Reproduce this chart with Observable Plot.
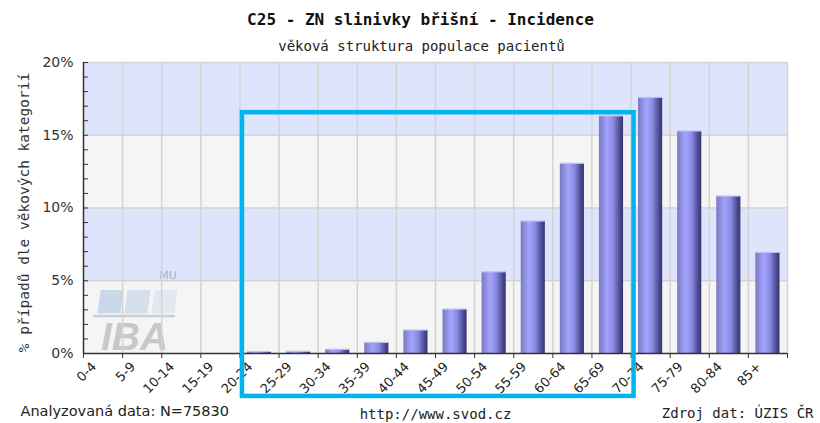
<!DOCTYPE html>
<html><head><meta charset="utf-8">
<script src="https://cdn.jsdelivr.net/npm/d3@7"></script>
<script src="https://cdn.jsdelivr.net/npm/@observablehq/plot@0.6"></script>
<style>
html,body{margin:0;padding:0;background:#fff;}
#chart{width:820px;height:423px;overflow:hidden;}
</style></head><body><div id="chart"></div>
<script>
// ---- data ----
const ageGroups = ["0-4","5-9","10-14","15-19","20-24","25-29","30-34","35-39","40-44","45-49","50-54","55-59","60-64","65-69","70-74","75-79","80-84","85+"];
const shares = [0,0,0,0,0.1,0.12,0.26,0.73,1.58,3.02,5.58,9.07,13.04,16.3,17.57,15.26,10.79,6.92];
const yTicks = [0,5,10,15,20];
const yMinorTicks = d3.range(0,21);
const highlightGroups = ["20-24","65-69"];
const highlightY = [-2.95, 16.55];
const titleText = "C25 - ZN slinivky břišní - Incidence";
const subtitleText = "věková struktura populace pacientů";
const yLabelText = "% případů dle věkových kategorií";
const footLeft = "Analyzovaná data: N=75830";
const footMid = "http://www.svod.cz";
const footRight = "Zdroj dat: ÚZIS ČR";

// ---- derived tables ----
const bars = ageGroups.map((age, i) => ({age, i, value: shares[i]}));
const bands = d3.pairs(yTicks).map(([lo, hi]) => ({lo, hi}));
const highlight = [{
  x1: ageGroups.indexOf(highlightGroups[0]),
  x2: ageGroups.indexOf(highlightGroups[1]) + 1,
  y1: highlightY[0], y2: highlightY[1]
}];

const MONO = "DejaVu Sans Mono";
const SANS = "DejaVu Sans";

function defs() {
  const d = d3.create("svg:defs");
  const g = d.append("linearGradient").attr("id", "barGrad").attr("x1", 0).attr("x2", 1).attr("y1", 0).attr("y2", 0);
  [[0, "#7878be"], [0.1, "#8686d2"], [0.35, "#a4a4ff"], [0.6, "#8a8ae2"], [0.85, "#4e4e98"], [1, "#34346c"]]
    .forEach(([o, c]) => g.append("stop").attr("offset", o).attr("stop-color", c));
  return d.node();
}

function logo(index, scales, values, dim) {
  const x0 = dim.marginLeft, y0 = dim.height - dim.marginBottom;
  const g = d3.create("svg:g").attr("transform", `translate(${x0},${y0})`).attr("text-anchor", "start");
  const cols = ["#c9d9ea", "#d5dfec", "#e2e7f0"];
  cols.forEach((c, k) => {
    const o = k * 27;
    g.append("polygon").attr("points",
      `${17.7+o},-63 ${40.3+o},-63 ${37.7+o},-39.7 ${14.3+o},-39.7`).attr("fill", c);
  });
  g.append("line").attr("x1", 10).attr("x2", 92).attr("y1", -37).attr("y2", -37)
    .attr("stroke", "#c9cdd5").attr("stroke-width", 2.5);
  g.append("text").attr("x", 85).attr("y", -74).attr("text-anchor", "middle")
    .attr("font-family", SANS).attr("font-size", 11).attr("fill", "#aab2c8").text("MU");
  g.append("text").attr("x", 18).attr("y", -3).attr("text-anchor", "start")
    .attr("font-family", "Liberation Sans").attr("font-weight", "bold").attr("font-style", "italic")
    .attr("font-size", 39).attr("fill", "#c8c8c8").text("IBA");
  return g.node();
}

const chart = Plot.plot({
  width: 820, height: 423,
  marginLeft: 83, marginRight: 33, marginTop: 62, marginBottom: 70,
  x: {domain: [0, ageGroups.length], axis: null},
  y: {domain: [0, 20], axis: null},
  style: {background: "transparent", fontFamily: SANS},
  marks: [
    defs,
    Plot.rect(bands.filter((d, i) => i % 2 === 0), {y1: "lo", y2: "hi", fill: "#f5f5f5"}),
    Plot.rect(bands.filter((d, i) => i % 2 === 1), {y1: "lo", y2: "hi", fill: "#dde4fc"}),
    logo,
    Plot.ruleX(d3.range(1, ageGroups.length + 1), {stroke: "#d4d4d4", strokeWidth: 1.5}),
    Plot.ruleY(yTicks.slice(1), {stroke: "#d4d4d4", strokeWidth: 1.5}),
    Plot.rectY(bars, {x1: "i", x2: d => d.i + 1, y: "value", insetLeft: 7.5, insetRight: 7.5, fill: "url(#barGrad)"}),
    Plot.rect(bars.filter(d => d.value > 0), {x1: "i", x2: d => d.i + 1, y1: "value", y2: "value", insetLeft: 7.5, insetRight: 7.5, insetTop: -0.6, insetBottom: -0.6, fill: "#c2c2f2"}),
    Plot.axisY(yMinorTicks, {tickSize: -5, tickFormat: () => "", label: null, color: "#333"}),
    Plot.axisY(yTicks, {tickSize: 0, tickPadding: 10, tickFormat: d => d + "%", label: null, fontSize: 14, color: "#333"}),
    Plot.ruleX([0], {stroke: "#333", strokeWidth: 1.5}),
    Plot.ruleY([0], {stroke: "#333", strokeWidth: 1.5}),
    Plot.axisX(d3.range(0, ageGroups.length + 1), {tickSize: 5, tickFormat: () => "", label: null, color: "#333"}),
    Plot.axisX(ageGroups.map((a, i) => i + 0.5), {tickSize: 0, tickPadding: 11, tickRotate: -45, tickFormat: v => ageGroups[Math.floor(v)], label: null, fontSize: 13, color: "#222", dx: -9}),
    Plot.text([yLabelText], {frameAnchor: "left", textAnchor: "middle", dx: -59, dy: 4.5, rotate: -90, fontFamily: MONO, fontSize: 14.5, fill: "#333"}),
    Plot.text([titleText], {frameAnchor: "top", dx: -15, dy: -49, fontFamily: MONO, fontSize: 16, fontWeight: "bold", fill: "#111"}),
    Plot.text([subtitleText], {frameAnchor: "top", dx: -14, dy: -21, fontFamily: MONO, fontSize: 14, fill: "#222"}),
    Plot.text([footLeft], {frameAnchor: "bottom-left", dx: -63, dy: 62, textAnchor: "start", fontFamily: SANS, fontSize: 14.5, fill: "#222"}),
    Plot.text([footMid], {frameAnchor: "bottom", dy: 65, fontFamily: MONO, fontSize: 14, fill: "#222"}),
    Plot.text([footRight], {frameAnchor: "bottom-right", dx: 26, dy: 64, textAnchor: "end", fontFamily: MONO, fontSize: 14, fill: "#222"}),
    Plot.rect(highlight, {x1: "x1", x2: "x2", y1: "y1", y2: "y2", insetLeft: 2.5, insetRight: -3, fill: "none", stroke: "#00b4f0", strokeWidth: 4.5})
  ]
});
document.getElementById("chart").appendChild(chart);
</script>
</body></html>
